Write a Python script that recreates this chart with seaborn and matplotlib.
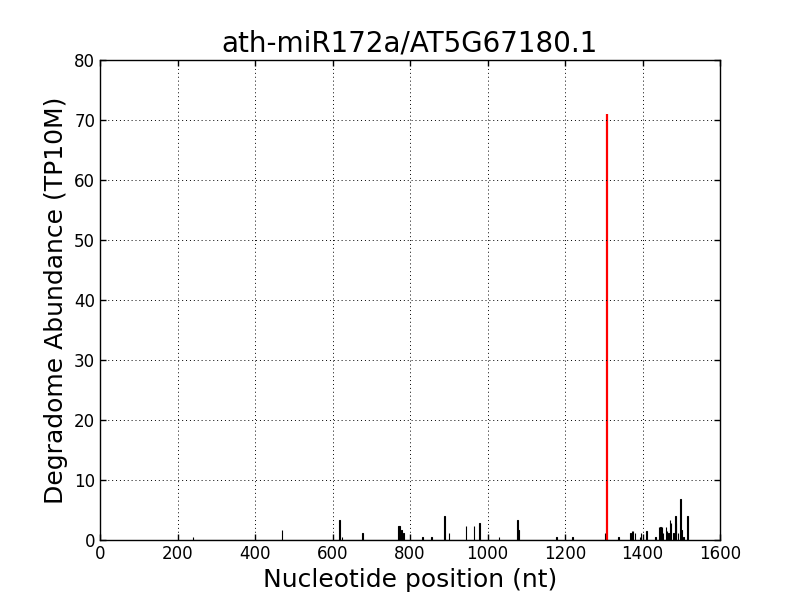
import numpy as np
import pandas as pd
import seaborn as sns
import matplotlib
matplotlib.use("Agg")
import matplotlib.pyplot as plt

# degradome tags (nucleotide position, abundance TP10M)
positions = [240, 470, 618, 625, 677, 770, 773, 778, 783, 832, 855, 889, 901,
             945, 965, 979, 1030, 1077, 1080, 1178, 1219, 1303, 1338, 1369,
             1373, 1376, 1381, 1393, 1396, 1410, 1434, 1443, 1446, 1450, 1453,
             1461, 1463, 1467, 1471, 1473, 1480, 1485, 1487, 1491, 1498, 1501,
             1506, 1516]
abundance = [0.45, 1.67, 3.3, 0.45, 1.17, 2.33, 2.33, 1.67, 1.17, 0.45, 0.45, 4.0, 1.1,
             2.28, 2.28, 2.78, 0.45, 3.3, 1.67, 0.45, 0.45, 1.1, 0.45, 1.1,
             1.55, 1.55, 1.1, 0.45, 1.1, 1.55, 0.45, 2.2, 2.2, 2.2, 1.1,
             2.2, 1.55, 1.1, 3.3, 2.8, 1.1, 4.0, 2.8, 1.1, 6.8, 1.67,
             0.45, 4.0]
# miRNA cleavage site
site_pos = [1309]
site_val = [71.0]

df = pd.DataFrame({"pos": positions, "tp10m": abundance})
site = pd.DataFrame({"pos": site_pos, "tp10m": site_val})

sns.set_style("white")
plt.rcParams["font.family"] = ["DejaVu Sans"]
plt.rcParams["xtick.direction"] = "in"
plt.rcParams["ytick.direction"] = "in"
plt.rcParams["text.color"] = "black"
plt.rcParams["axes.labelcolor"] = "black"
plt.rcParams["xtick.color"] = "black"
plt.rcParams["ytick.color"] = "black"

fig, ax = plt.subplots(figsize=(8, 6), dpi=100)
fig.subplots_adjust(left=0.125, right=0.9, bottom=0.1, top=0.9)

sns.histplot(data=df, x="pos", weights="tp10m", discrete=True, color="black",
             edgecolor="black", linewidth=0.8, alpha=1, ax=ax)
sns.histplot(data=site, x="pos", weights="tp10m", discrete=True, color="red",
             edgecolor="red", linewidth=1.6, alpha=1, ax=ax)

ax.set_xlim(0, 1600)
ax.set_ylim(0, 80)
ax.set_xticks(range(0, 1601, 200))
ax.set_yticks(range(0, 81, 10))
ax.grid(True, linestyle=(0, (1, 3)), color="black", linewidth=0.7)
ax.set_axisbelow(False)
for s in ax.spines.values():
    s.set_visible(True)
    s.set_color("black")
    s.set_linewidth(1)
ax.tick_params(axis="both", which="major", length=4, width=1, color="black",
               labelcolor="black", labelsize=12,
               top=True, right=True, bottom=True, left=True)

ax.set_title("ath-miR172a/AT5G67180.1", fontsize=20, color="black")
ax.set_xlabel("Nucleotide position (nt)", fontsize=18)
ax.set_ylabel("Degradome Abundance (TP10M)", fontsize=18)

fig.savefig("out.png", dpi=100, facecolor="white")
